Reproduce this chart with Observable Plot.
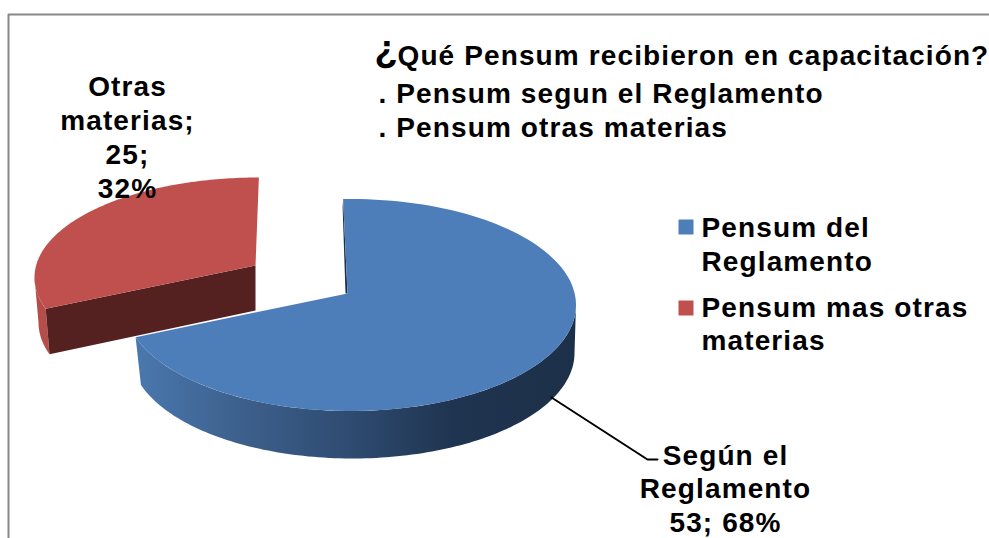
<!DOCTYPE html>
<html><head><meta charset="utf-8">
<script src="https://cdn.jsdelivr.net/npm/d3@7"></script>
<script src="https://cdn.jsdelivr.net/npm/@observablehq/plot@0.6"></script>
<style>
html,body{margin:0;padding:0;background:#fff;overflow:hidden}
svg{display:block}
text{font-family:"Liberation Sans",Arial,sans-serif;font-weight:700;letter-spacing:1.12px}
</style></head><body><div id="chart"></div>
<script>
// ---- data ----
const categories = ["Según el Reglamento", "Otras materias"];
const values = [53, 25];
const percents = ["68%", "32%"];
const legendLabels = [["Pensum del", "Reglamento"], ["Pensum mas otras", "materias"]];
const titleLines = ["Qué Pensum recibieron en capacitación?", ". Pensum segun el Reglamento", ". Pensum otras materias"];
const topColors = ["#4d7eb9", "#bf504d"];
const wallStops = [[0, "#4a78ae"], [0.25, "#3c5f8b"], [0.5, "#2e4a6f"], [0.72, "#1f3450"], [1, "#1d3049"]];

// ---- layout of the 3D pie ----
const W = 989, H = 538;
const rad = Math.PI / 180;
const geo = [
  {apex:[347,293], top:{c:[350,304.5],rx:225.5,ry:106}, bot:{c:[352,352.5],rx:222,ry:105.5}, rot:-1.1, aspect:2.42},
  {apex:[255,265], top:{c:[258,277],rx:224,ry:100}, bot:{c:[258,322],rx:220,ry:102}, rot:1.0, aspect:2.2}
];
const arcs = d3.pie().sort(null).value(d => d)(values);

// point of the rim met by a ray from the apex at pie angle a (radians, clockwise from north)
function rim(g, a) {
  const dx = g.aspect * Math.sin(a), dy = -Math.cos(a);
  const {c, rx, ry} = g.top;
  const ox = (g.apex[0] - c[0]) / rx, oy = (g.apex[1] - c[1]) / ry;
  const ux = dx / rx, uy = dy / ry;
  const A = ux*ux + uy*uy, B = 2*(ox*ux + oy*uy), C = ox*ox + oy*oy - 1;
  const s = (-B + Math.sqrt(B*B - 4*A*C)) / (2*A);
  return [g.apex[0] + s*dx, g.apex[1] + s*dy];
}
const param = (e, p) => Math.atan2((p[0]-e.c[0])/e.rx, -(p[1]-e.c[1])/e.ry);
const onE = (e, t) => [e.c[0] + e.rx*Math.sin(t), e.c[1] - e.ry*Math.cos(t)];
const steps = (a, b, n = 120) => d3.range(n + 1).map(i => a + (b - a) * i / n);

const polys = arcs.map((arc, i) => {
  const g = geo[i];
  const a0 = arc.startAngle + g.rot*rad, a1 = arc.endAngle + g.rot*rad;
  const face = [g.apex, ...steps(a0, a1).map(a => rim(g, a))];
  return {g, a0, a1, face};
});

// blue: outer wall from the end of the slice round the front to the right side
const b = polys[0];
let bEnd = param(b.g.top, rim(b.g, b.a1)); if (bEnd < 0) bEnd += 2*Math.PI;
const blueWall = [
  ...steps(bEnd, 90*rad).map(t => onE(b.g.top, t)),
  ...steps(90*rad, bEnd).map(t => onE(b.g.bot, t))
];
const blueSliver = [rim(b.g, b.a0), b.g.apex, [b.g.apex[0]-2, b.g.apex[1]], [rim(b.g,b.a0)[0]-0.5, rim(b.g,b.a0)[1]+8]];

// red: cut face and the small outer wall on the left
const r = polys[1];
let rStart = param(r.g.top, rim(r.g, r.a0)); if (rStart < 0) rStart += 2*Math.PI;
const rStartTop = rim(r.g, r.a0), rStartBot = onE(r.g.bot, rStart);
const redCut = [rStartTop, r.g.apex, [r.g.apex[0], r.g.apex[1]+45], rStartBot];
const redWall = [
  ...steps(rStart, 270*rad, 40).map(t => onE(r.g.top, t)),
  ...steps(270*rad, rStart, 40).map(t => onE(r.g.bot, t))
];

const poly = (pts, fill) => Plot.line(pts, {x: d => d[0], y: d => d[1], fill, stroke: "none", curve: "linear"});

// ---- text rows ----
const labelRowsRed = ["Otras", "materias;", `${values[1]};`, percents[1]].map((t,i)=>({t, x:127, y:95+34*i}));
const labelRowsBlue = ["Según el", "Reglamento", `${values[0]}; ${percents[0]}`].map((t,i)=>({t, x:725, y:464+33.5*i}));
const legendRows = [
  {t:legendLabels[0][0], y:236},{t:legendLabels[0][1], y:270},
  {t:legendLabels[1][0], y:316},{t:legendLabels[1][1], y:349}
];
const titleRows = [{t:titleLines[0],x:397,y:64},{t:titleLines[1],x:378,y:102},{t:titleLines[2],x:378,y:136}];
const legendSwatches = topColors.map((c,i)=>({c, x:685.5, y:[226.5,307.5][i]}));
const leader = [[551,397],[647,459],[657,459]];
const frame = [[8,H],[8,14],[W,14]];

const gradient = () => {
  const s = d3.create("svg:linearGradient").attr("id","wall").attr("x1",0).attr("x2",1).attr("y1",0).attr("y2",0);
  wallStops.forEach(([o,c]) => s.append("stop").attr("offset",o).attr("stop-color",c));
  return d3.create("svg:defs").call(d => d.append(() => s.node())).node();
};
const T = (rows, o) => Plot.text(rows, {x: d => d.x, y: d => d.y, text: d => d.t, lineAnchor: "bottom", fill: "#000", ...o});

const chart = Plot.plot({
  width: W, height: H, margin: 0,
  x: {domain: [0, W], range: [0, W], axis: null},
  y: {domain: [0, H], range: [0, H], axis: null},
  marks: [
    gradient,
    Plot.line(frame, {x: d=>d[0], y: d=>d[1], stroke: "#878787", strokeWidth: 2}),
    poly(redWall, "#b54e4a"),
    poly(redCut, "#552120"),
    poly(r.face, topColors[1]),
    poly(blueSliver, "#1d3049"),
    poly(blueWall, "url(#wall)"),
    poly(b.face, topColors[0]),
    Plot.line(leader, {x: d=>d[0], y: d=>d[1], stroke: "#000", strokeWidth: 2}),
    T(labelRowsRed, {fontSize: 28, textAnchor: "middle"}),
    T(labelRowsBlue, {fontSize: 28, textAnchor: "middle"}),
    T(legendRows, {x: 701, fontSize: 28, textAnchor: "start"}),
    T(titleRows, {fontSize: 28, textAnchor: "start"}),
    T([{t:"¿",x:374,y:61}], {fontSize: 38, textAnchor: "start"}),
    Plot.dot(legendSwatches, {x: d=>d.x, y: d=>d.y, symbol: "square", r: 8.46, fill: d=>d.c, stroke: "none"})
  ]
});
document.getElementById("chart").append(chart);
</script></body></html>
